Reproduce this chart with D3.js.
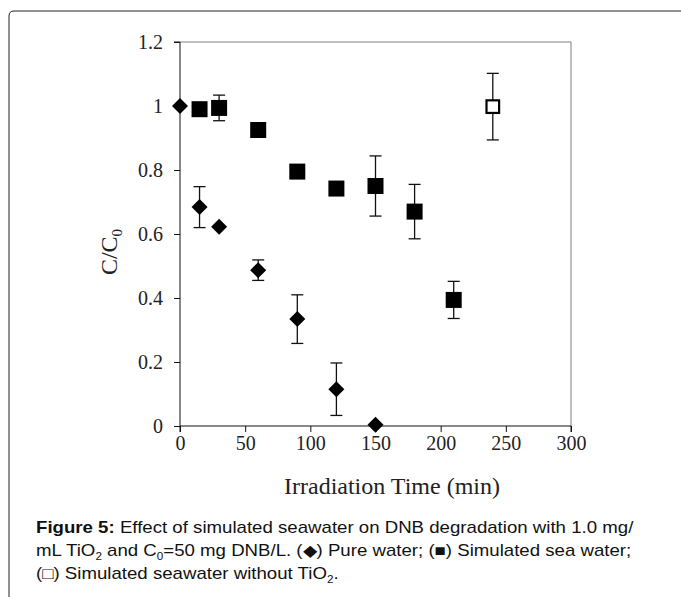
<!DOCTYPE html>
<html lang="en">
<head>
    <meta charset="UTF-8">
    <title>Figure 5</title>
    <style>
        body, html {
            margin: 0;
            background-color: #fff;
        }
        svg { display: block; }
        .tick text { font-family: "Liberation Serif", "Times New Roman", serif; font-size: 20px; fill: #222; }
        .caption { font-family: "Liberation Sans", Arial, sans-serif; font-size: 16px; fill: #111; }
    </style>
    <script src="https://d3js.org/d3.v7.min.js"></script>
</head>
<body>
    <div id="chart"></div>
    <script>
        // values
        const pureTime = [0, 15, 30, 60, 90, 120, 150];
        const pureVal  = [1.0, 0.684, 0.623, 0.487, 0.334, 0.115, 0.004];
        const pureErr  = [0, 0.064, 0, 0.032, 0.076, 0.082, 0];

        const seaTime = [15, 30, 60, 90, 120, 150, 180, 210];
        const seaVal  = [0.99, 0.994, 0.925, 0.795, 0.742, 0.75, 0.67, 0.394];
        const seaErr  = [0, 0.04, 0, 0, 0, 0.094, 0.085, 0.058];

        const noTiTime = [240];
        const noTiVal  = [0.998];
        const noTiErr  = [0.104];

        const xTicks = [0, 50, 100, 150, 200, 250, 300];
        const yTicks = [0, 0.2, 0.4, 0.6, 0.8, 1, 1.2];

        const width = 681, height = 597;
        const svg = d3.select("#chart").append("svg")
            .attr("width", width)
            .attr("height", height);

        // outer frame, rounded top-left corner
        svg.append("path")
            .attr("d", "M9,600 L9,16 Q9,11 14,11 L690,11")
            .attr("fill", "none")
            .attr("stroke", "#222")
            .attr("stroke-width", 1);

        const x = d3.scaleLinear().domain([0, 300]).range([180, 571]);
        const y = d3.scaleLinear().domain([0, 1.2]).range([426, 42]);

        // plot area border (top/right)
        svg.append("path")
            .attr("d", `M${x(0)},${y(1.2)} H${x(300)} V${y(0)}`)
            .attr("fill", "none")
            .attr("stroke", "#808080")
            .attr("stroke-width", 1);

        const fmt = d => String(+d.toFixed(1));

        svg.append("g")
            .attr("transform", `translate(0,${y(0)})`)
            .call(d3.axisBottom(x).tickValues(xTicks).tickSize(6).tickPadding(4).tickFormat(fmt))
            .call(g => g.select(".domain").attr("d", `M${x(0)},6V0H${x(300)}V6`))
            .call(g => g.selectAll("line, path").attr("stroke", "#111"));

        svg.append("g")
            .attr("transform", `translate(${x(0)},0)`)
            .call(d3.axisLeft(y).tickValues(yTicks).tickSize(6).tickPadding(11).tickFormat(fmt))
            .call(g => g.select(".domain").attr("d", `M-6,${y(1.2)}H0V${y(0)}`))
            .call(g => g.selectAll("line, path").attr("stroke", "#111"));
        svg.selectAll(".tick text").attr("font-family", null).attr("font-size", null);

        // axis titles
        svg.append("text")
            .attr("x", 392)
            .attr("y", 494)
            .attr("text-anchor", "middle")
            .style("font-family", "'Liberation Serif', 'Times New Roman', serif")
            .style("font-size", "24px")
            .attr("fill", "#222")
            .text("Irradiation Time (min)");

        const yt = svg.append("text")
            .attr("transform", "translate(117,252) rotate(-90)")
            .attr("text-anchor", "middle")
            .style("font-family", "'Liberation Serif', 'Times New Roman', serif")
            .style("font-size", "24px")
            .attr("fill", "#222");
        yt.append("tspan").text("C/C");
        yt.append("tspan").attr("dy", 5).style("font-size", "15px").text("0");

        // error bars
        const errData = [];
        pureTime.forEach((t, i) => errData.push([t, pureVal[i], pureErr[i]]));
        seaTime.forEach((t, i) => errData.push([t, seaVal[i], seaErr[i]]));
        noTiTime.forEach((t, i) => errData.push([t, noTiVal[i], noTiErr[i]]));

        const eb = svg.append("g").attr("stroke", "#111").attr("stroke-width", 1.3);
        errData.filter(d => d[2] > 0).forEach(([t, v, e]) => {
            eb.append("line").attr("x1", x(t)).attr("x2", x(t)).attr("y1", y(v + e)).attr("y2", y(v - e));
            eb.append("line").attr("x1", x(t) - 6).attr("x2", x(t) + 6).attr("y1", y(v + e)).attr("y2", y(v + e));
            eb.append("line").attr("x1", x(t) - 6).attr("x2", x(t) + 6).attr("y1", y(v - e)).attr("y2", y(v - e));
        });

        // markers
        const dia = 8;
        svg.append("g").selectAll("path")
            .data(pureTime.map((t, i) => [t, pureVal[i]]))
            .enter().append("path")
            .attr("d", d => `M${x(d[0])},${y(d[1]) - dia} L${x(d[0]) + dia},${y(d[1])} L${x(d[0])},${y(d[1]) + dia} L${x(d[0]) - dia},${y(d[1])} Z`)
            .attr("fill", "#000");

        svg.append("g").selectAll("rect")
            .data(seaTime.map((t, i) => [t, seaVal[i]]))
            .enter().append("rect")
            .attr("x", d => x(d[0]) - 8)
            .attr("y", d => y(d[1]) - 8)
            .attr("width", 16)
            .attr("height", 16)
            .attr("fill", "#000");

        svg.append("g").selectAll("rect")
            .data(noTiTime.map((t, i) => [t, noTiVal[i]]))
            .enter().append("rect")
            .attr("x", d => x(d[0]) - 6.3)
            .attr("y", d => y(d[1]) - 6.3)
            .attr("width", 12.6)
            .attr("height", 12.6)
            .attr("fill", "#fff")
            .attr("stroke", "#000")
            .attr("stroke-width", 2.2);

        // caption (text in the figure is a little wide, so stretch horizontally)
        const capG = svg.append("g").attr("transform", "translate(36,0) scale(1.166,1)");

        const l1 = capG.append("text").attr("class", "caption").attr("x", 0).attr("y", 533);
        l1.append("tspan").style("font-weight", "bold").text("Figure 5:");
        l1.append("tspan").text(" Effect of simulated seawater on DNB degradation with 1.0 mg/");

        const l2 = capG.append("text").attr("class", "caption").attr("x", 0).attr("y", 556);
        l2.append("tspan").text("mL TiO");
        l2.append("tspan").attr("dy", 4).style("font-size", "10px").text("2");
        l2.append("tspan").attr("dy", -4).text(" and C");
        l2.append("tspan").attr("dy", 4).style("font-size", "10px").text("0");
        l2.append("tspan").attr("dy", -4).text("=50 mg DNB/L. (\u25C6) Pure water; (\u25A0) Simulated sea water;");

        const l3 = capG.append("text").attr("class", "caption").attr("x", 0).attr("y", 579);
        l3.append("tspan").text("(\u25A1) Simulated seawater without TiO");
        l3.append("tspan").attr("dy", 4).style("font-size", "10px").text("2");
        l3.append("tspan").attr("dy", -4).text(".");
    </script>
</body>
</html>
